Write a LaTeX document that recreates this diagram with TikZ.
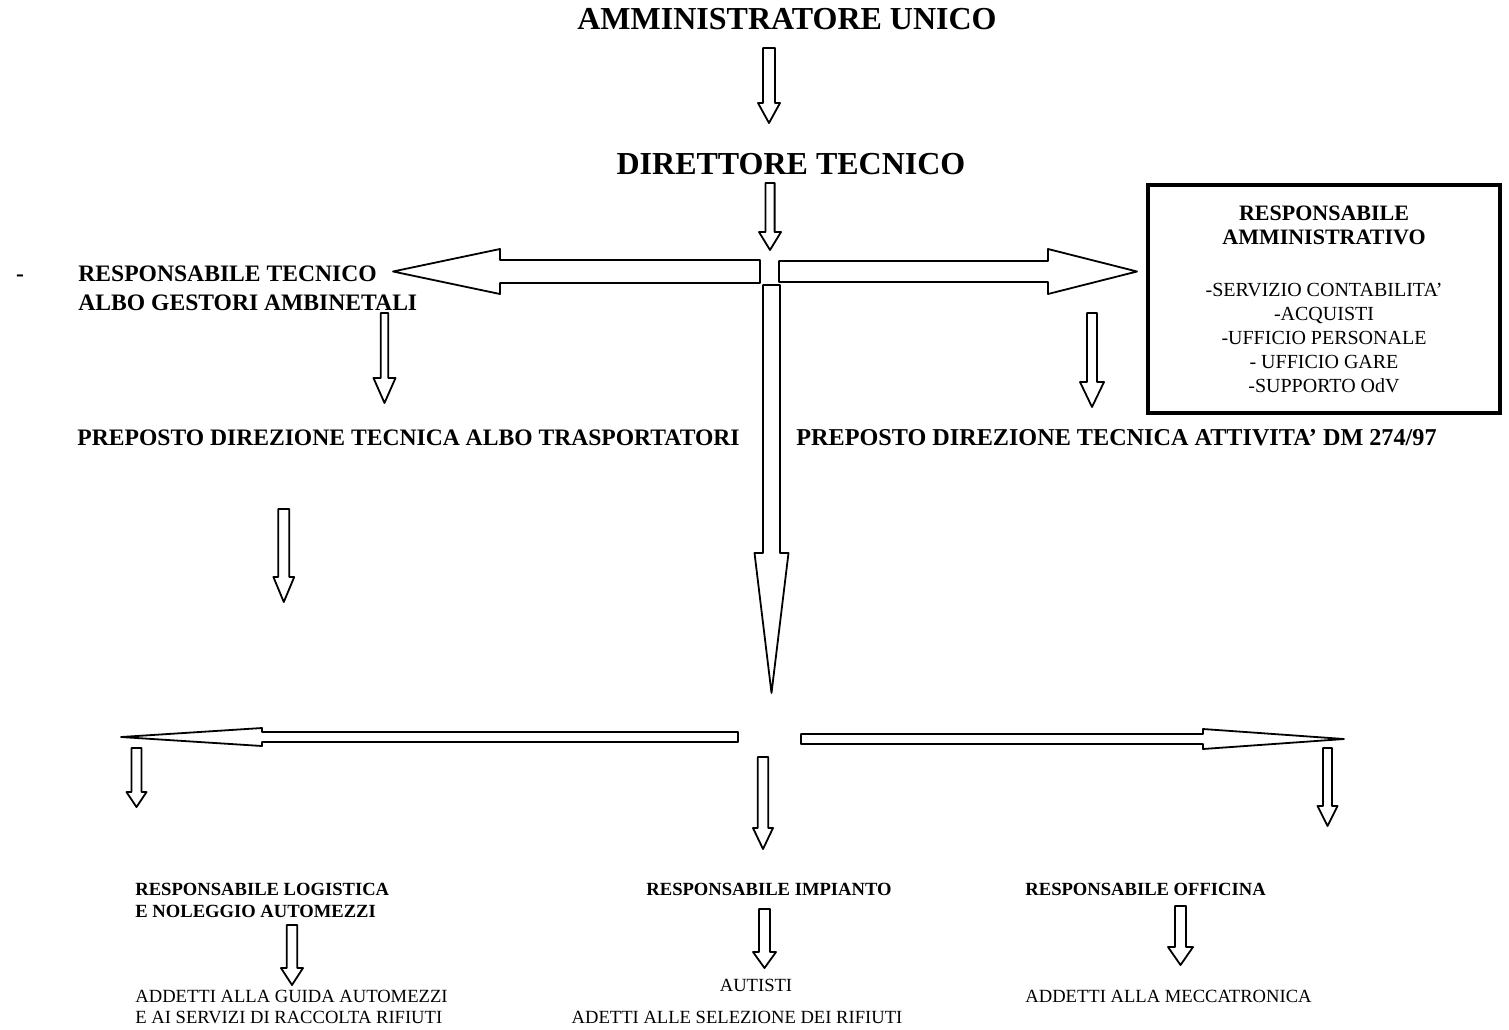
\documentclass[tikz,border=0pt]{standalone}
\usepackage{fontspec}
\setmainfont{Liberation Serif}
\usetikzlibrary{calc}

\tikzset{
  blockline/.style={draw=black, line width=0.9pt, fill=white, line join=round},
  boldbig/.style={font=\fontsize{16pt}{18pt}\selectfont\bfseries, inner sep=0pt},
  boldmid/.style={font=\fontsize{11.8pt}{14pt}\selectfont\bfseries, inner sep=0pt},
  boldsmall/.style={font=\fontsize{9.3pt}{11pt}\selectfont\bfseries, inner sep=0pt},
  plainsmall/.style={font=\fontsize{9.3pt}{11pt}\selectfont, inner sep=0pt},
  adminbox/.style={draw=black, line width=2pt, minimum width=176pt, minimum height=114pt,
    align=center, inner sep=0pt, font=\fontsize{10pt}{12pt}\selectfont}
}

% hollow block arrow: start, end, half shaft, half head, head length
\newcommand{\blockarr}[5]{%
  \coordinate (bh) at ($(#2)!#5!(#1)$);
  \draw[blockline] ($(#1)!#3!90:(#2)$) -- ($(bh)!#3!90:(#2)$) -- ($(bh)!#4!90:(#2)$) -- (#2)
    -- ($(bh)!#4!-90:(#2)$) -- ($(bh)!#3!-90:(#2)$) -- ($(#1)!#3!-90:(#2)$) -- cycle;
}

\begin{document}
\begin{tikzpicture}[x=0.5pt, y=-0.5pt]
  \useasboundingbox (0,0) rectangle (1509,1029);

  % titles
  \node[boldbig, anchor=base] (amm) at (787,29.5) {AMMINISTRATORE UNICO};
  \node[boldbig, anchor=base] (dir) at (791,174) {DIRETTORE TECNICO};

  % middle level
  \node[boldmid, anchor=base] (dash) at (20,281) {-};
  \node[boldmid, anchor=base west] (resptec) at (78,281) {RESPONSABILE TECNICO};
  \node[boldmid, anchor=base west] (albogest) at (78,310) {ALBO GESTORI AMBINETALI};
  \node[boldmid, anchor=base west] (prepalbo) at (77,445) {PREPOSTO DIREZIONE TECNICA ALBO TRASPORTATORI};
  \node[boldmid, anchor=base west, font=\fontsize{12.1pt}{14pt}\selectfont\bfseries] (prepdm) at (796,445) {PREPOSTO DIREZIONE TECNICA ATTIVITA’ DM 274/97};
  \node[adminbox] (ammbox) at (1324,299) {%
    {\fontsize{11pt}{12pt}\selectfont\bfseries RESPONSABILE}\\
    {\fontsize{11pt}{12pt}\selectfont\bfseries AMMINISTRATIVO}\\[14pt]
    -SERVIZIO CONTABILITA’\\ -ACQUISTI\\ -UFFICIO PERSONALE\\ - UFFICIO GARE\\ -SUPPORTO OdV};

  % bottom level
  \node[boldsmall, anchor=base west] (logist) at (135,895) {RESPONSABILE LOGISTICA};
  \node[boldsmall, anchor=base west] (nolegg) at (135,917) {E NOLEGGIO AUTOMEZZI};
  \node[plainsmall, anchor=base west] (guida) at (135,1002) {ADDETTI ALLA GUIDA AUTOMEZZI};
  \node[plainsmall, anchor=base west] (raccolta) at (135,1023) {E AI SERVIZI DI RACCOLTA RIFIUTI};
  \node[boldsmall, anchor=base] (impianto) at (769,895) {RESPONSABILE IMPIANTO};
  \node[plainsmall, anchor=base] (autisti) at (756,991) {AUTISTI};
  \node[plainsmall, anchor=base] (selez) at (737,1023) {ADETTI ALLE SELEZIONE DEI RIFIUTI};
  \node[boldsmall, anchor=base west] (officina) at (1025,895) {RESPONSABILE OFFICINA};
  \node[plainsmall, anchor=base west] (mecc) at (1025,1002) {ADDETTI ALLA MECCATRONICA};

  % arrow ends
  \coordinate (amm-s) at (769,48);     \coordinate (dir-e) at (769,123);
  \coordinate (dir-s) at (770,183);    \coordinate (hub-e) at (770,250);
  \coordinate (hubl-s) at (760,271.5); \coordinate (tec-e) at (393,271.5);
  \coordinate (hubr-s) at (779,271.5); \coordinate (box-e) at (1137,271.5);
  \coordinate (hubd-s) at (771.5,285); \coordinate (low-e) at (771.5,693);
  \coordinate (tec-s) at (384.5,313);  \coordinate (palbo-e) at (384.5,403);
  \coordinate (dm-s) at (1092,313);    \coordinate (pdm-e) at (1092,407);
  \coordinate (palbo-s) at (283.8,509); \coordinate (palbo-d) at (283.8,602);
  \coordinate (lowl-s) at (738,737);   \coordinate (lowl-e) at (121,737);
  \coordinate (lowr-s) at (801,739);   \coordinate (lowr-e) at (1344,739);
  \coordinate (l1-s) at (136.5,748);   \coordinate (l1-e) at (136.5,807);
  \coordinate (m1-s) at (763,757);     \coordinate (m1-e) at (763,849);
  \coordinate (r1-s) at (1327.5,748);  \coordinate (r1-e) at (1327.5,826);
  \coordinate (log-s) at (292,925);    \coordinate (log-e) at (292,985);
  \coordinate (imp-s) at (764.5,909);  \coordinate (imp-e) at (764.5,968);
  \coordinate (off-s) at (1180.5,906); \coordinate (off-e) at (1180.5,965);

  % arrows
  \blockarr{amm-s}{dir-e}{3pt}{5.5pt}{10pt}
  \blockarr{dir-s}{hub-e}{2.3pt}{5.5pt}{9pt}
  \blockarr{hubl-s}{tec-e}{5.75pt}{11.25pt}{53.5pt}
  \blockarr{hubr-s}{box-e}{5.25pt}{11.25pt}{44.5pt}
  \blockarr{hubd-s}{low-e}{4.25pt}{8.5pt}{70pt}
  \blockarr{tec-s}{palbo-e}{1.9pt}{5.5pt}{12.5pt}
  \blockarr{dm-s}{pdm-e}{2.5pt}{6pt}{12.5pt}
  \blockarr{palbo-s}{palbo-d}{2.75pt}{5.2pt}{12.5pt}
  \blockarr{lowl-s}{lowl-e}{2.5pt}{4.5pt}{70.5pt}
  \blockarr{lowr-s}{lowr-e}{2.5pt}{5pt}{70.5pt}
  \blockarr{l1-s}{l1-e}{2.5pt}{5pt}{7.5pt}
  \blockarr{m1-s}{m1-e}{2.6pt}{5pt}{10.5pt}
  \blockarr{r1-s}{r1-e}{2.25pt}{5pt}{10pt}
  \blockarr{log-s}{log-e}{2.6pt}{5.5pt}{8.5pt}
  \blockarr{imp-s}{imp-e}{2.75pt}{5.75pt}{8pt}
  \blockarr{off-s}{off-e}{2.75pt}{6.25pt}{9pt}
\end{tikzpicture}
\end{document}
